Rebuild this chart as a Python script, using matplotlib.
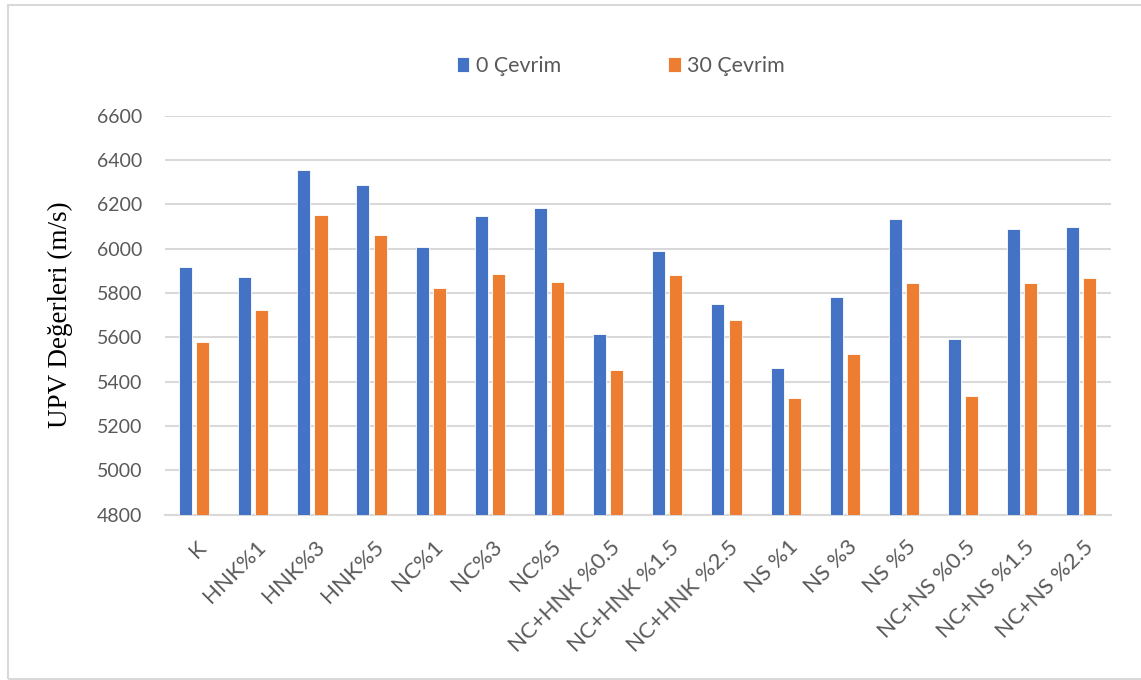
import matplotlib.pyplot as plt
from matplotlib.patches import Rectangle
from matplotlib.transforms import ScaledTranslation
import numpy as np

# UPV değerleri: 0 ve 30 donma-çözülme çevrimi
categories = ['K', 'HNK%1', 'HNK%3', 'HNK%5', 'NC%1', 'NC%3', 'NC%5',
              'NC+HNK %0.5', 'NC+HNK %1.5', 'NC+HNK %2.5',
              'NS %1', 'NS %3', 'NS %5',
              'NC+NS %0.5', 'NC+NS %1.5', 'NC+NS %2.5']
cevrim_0 = [5916, 5872, 6353, 6289, 6006, 6147, 6185, 5617, 5989, 5750,
            5463, 5782, 6134, 5593, 6089, 6098]
cevrim_30 = [5578, 5723, 6150, 6060, 5824, 5884, 5850, 5454, 5880, 5677,
             5325, 5523, 5847, 5335, 5847, 5869]
yticks = [4800, 5000, 5200, 5400, 5600, 5800, 6000, 6200, 6400, 6600]

blue = '#4472C4'
orange = '#ED7D31'
grid = '#D9D9D9'
text_gray = '#595959'

plt.rcParams['font.family'] = ['Lato', 'DejaVu Sans']

fig = plt.figure(figsize=(11.41, 6.8), dpi=100)
ax = fig.add_axes([0.1442, 0.2431, 0.8295, 0.5868])

x = np.arange(len(categories))
w = 0.22
off = 0.145
ax.bar(x - off, cevrim_0, w, color=blue, edgecolor='white', linewidth=0.6,
       label='0 Çevrim', zorder=3)
ax.bar(x + off, cevrim_30, w, color=orange, edgecolor='white', linewidth=0.6,
       label='30 Çevrim', zorder=3)

ax.set_xlim(-0.5, len(categories) - 0.5)
ax.set_ylim(4800, 6600)
ax.set_yticks(yticks)
ax.yaxis.grid(True, color=grid, linewidth=1.5, zorder=0)
ax.set_axisbelow(True)
for s in ['top', 'right', 'left']:
    ax.spines[s].set_visible(False)
ax.spines['bottom'].set_color(grid)
ax.spines['bottom'].set_linewidth(1.5)
ax.tick_params(axis='y', length=0, colors=text_gray, labelsize=14, pad=16)
ax.tick_params(axis='x', length=0, colors=text_gray, labelsize=16, pad=16)

ax.set_xticks(x)
ax.set_xticklabels(categories, rotation=45, ha='right', va='top',
                   rotation_mode='anchor')
shift = ScaledTranslation(2 / 100, 0, fig.dpi_scale_trans)
for lbl in ax.get_xticklabels():
    lbl.set_transform(lbl.get_transform() + shift)

ax.set_ylabel('UPV Değerleri (m/s)', family='Liberation Serif', fontsize=19.5,
              color='black', labelpad=17)

leg = ax.legend(loc='center', bbox_to_anchor=(0.482, 1.125), ncol=2, frameon=False,
                fontsize=15.4, handlelength=0.6, handleheight=0.7,
                handletextpad=0.3, columnspacing=5.0)
for t in leg.get_texts():
    t.set_color(text_gray)

# çerçeve
fig.patches.append(Rectangle((8 / 1141, 1 / 680), 1.2, 674 / 680,
                             transform=fig.transFigure, fill=False,
                             edgecolor=grid, linewidth=1.5))

fig.savefig('out.png', dpi=100)
